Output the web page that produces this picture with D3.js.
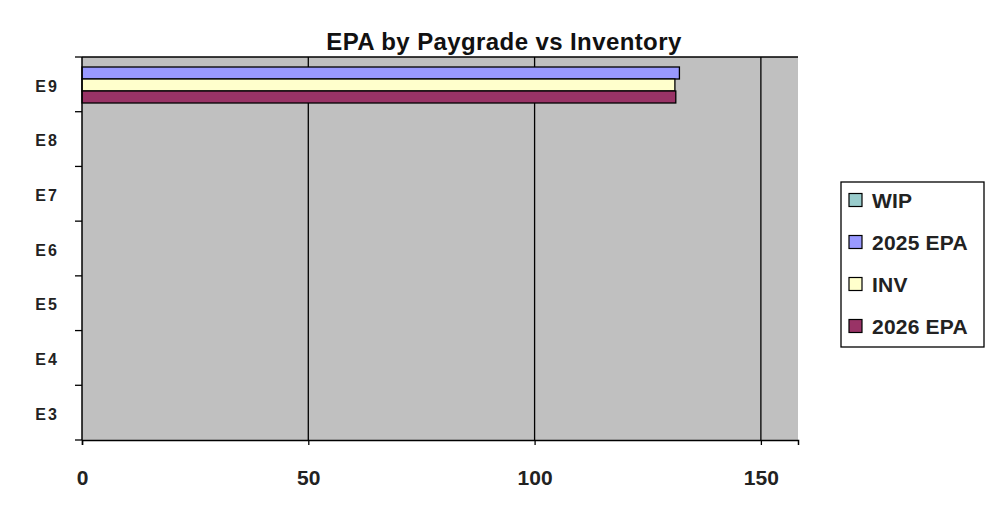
<!DOCTYPE html>
<html><head><meta charset="utf-8">
<script src="https://cdn.jsdelivr.net/npm/d3@7"></script>
<style>body{margin:0;background:#fff}svg{display:block;font-family:Arial,"Liberation Sans",sans-serif}</style>
</head><body><svg id="c" width="1003" height="516"></svg>
<script>
const categories = ["E9","E8","E7","E6","E5","E4","E3"];
const seriesNames = ["WIP","2025 EPA","INV","2026 EPA"];
const seriesColors = ["#99cccc","#9999ff","#ffffcc","#993366"];
const wip     = [0,0,0,0,0,0,0];
const epa2025 = [132,0,0,0,0,0,0];
const inv     = [131,0,0,0,0,0,0];
const epa2026 = [131.2,0,0,0,0,0,0];
const xTicks = [0,50,100,150];
const title = "EPA by Paygrade vs Inventory";

const values = [wip, epa2025, inv, epa2026];
const svg = d3.select("#c");
const L=82, R=798, T=57, B=440;
const x = d3.scaleLinear().domain([0,158.2]).range([L,R]);
const y = d3.scaleBand().domain(categories).range([T,B]);
const ys = d3.scaleBand().domain(seriesNames).range([-2, 46]);

svg.append("rect").attr("x",L).attr("y",T).attr("width",R-L).attr("height",B-T).attr("fill","#c0c0c0");
// gridlines
svg.append("g").selectAll("line").data(xTicks.filter(d=>d>0)).join("line")
  .attr("x1",d=>x(d)).attr("x2",d=>x(d)).attr("y1",T).attr("y2",B)
  .attr("stroke","#000").attr("stroke-width",1.3);
svg.append("line").attr("x1",L).attr("x2",R).attr("y1",T).attr("y2",T).attr("stroke","#000").attr("stroke-width",1.3);

// bars
seriesNames.forEach((s,i)=>{
  svg.append("g").selectAll("rect").data(categories.map((c,j)=>({c,v:values[i][j]})).filter(d=>d.v>0)).join("rect")
    .attr("x",x(0)).attr("y",d=>y(d.c)+ys(s)).attr("width",d=>x(d.v)-x(0)).attr("height",ys.bandwidth())
    .attr("fill",seriesColors[i]).attr("stroke","#000").attr("stroke-width",1.3);
});

// axes
const xAxis = svg.append("g").attr("transform",`translate(0,${B})`)
  .call(d3.axisBottom(x).tickValues(xTicks).tickSize(5));
xAxis.select(".domain").attr("stroke-width",1.5);
xAxis.selectAll("text").attr("y",45).attr("dy",0).attr("font-size",21).attr("font-weight","bold").attr("fill","#222");
xAxis.selectAll(".tick line").attr("stroke-width",1.3);

const yAxis = svg.append("g").attr("transform",`translate(${L},0)`)
  .call(d3.axisLeft(y).tickSize(0).tickPadding(0));
yAxis.select(".domain").remove();
yAxis.selectAll("text").attr("x",-35).attr("dy","0.45em").attr("text-anchor","middle").attr("font-size",16).attr("font-weight","bold").attr("fill","#222").attr("letter-spacing","2px");
svg.append("line").attr("x1",L).attr("x2",L).attr("y1",T).attr("y2",B).attr("stroke","#000").attr("stroke-width",1.5);
// category boundary ticks
svg.append("g").selectAll("line").data(d3.range(categories.length+1)).join("line")
  .attr("x1",L-7).attr("x2",L).attr("y1",i=>T+i*y.step()).attr("y2",i=>T+i*y.step())
  .attr("stroke","#000").attr("stroke-width",1.3);

// title
svg.append("text").attr("x",504).attr("y",50).attr("text-anchor","middle").attr("font-size",24)
  .attr("font-weight","bold").attr("fill","#111").attr("letter-spacing","0.4px").text(title);

// legend
const lg = svg.append("g");
lg.append("rect").attr("x",841).attr("y",182).attr("width",143).attr("height",165).attr("fill","#fff").attr("stroke","#000").attr("stroke-width",1.3);
seriesNames.forEach((s,i)=>{
  const cy = 200 + i*42;
  lg.append("rect").attr("x",849).attr("y",cy-6.5).attr("width",13).attr("height",13).attr("fill",seriesColors[i]).attr("stroke","#000").attr("stroke-width",1.2);
  lg.append("text").attr("x",872).attr("y",cy+8).attr("font-size",21).attr("font-weight","bold").attr("fill","#222").attr("letter-spacing","0.2px").text(s);
});
</script></body></html>
